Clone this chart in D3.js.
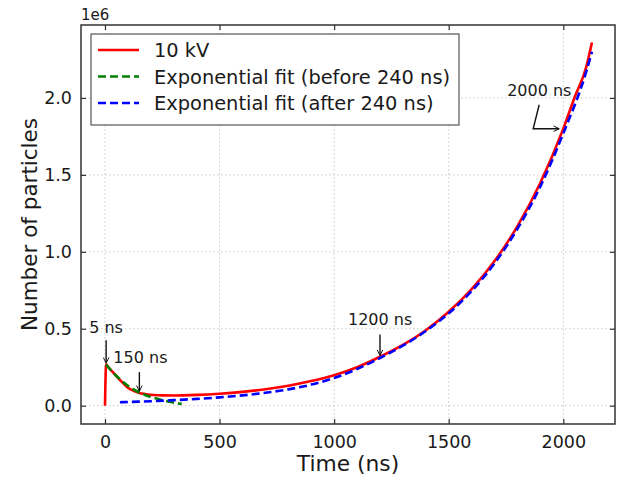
<!DOCTYPE html>
<html>
<head>
<meta charset="utf-8">
<script src="https://cdn.jsdelivr.net/npm/d3@7"></script>
<style>
  body { margin: 0; background: #fff; }
  text { font-family: "DejaVu Sans", sans-serif; fill: #1a1a1a; }
</style>
</head>
<body>
<svg id="chart"></svg>
<script>
// particle count vs time, with two exponential fits

// DATA (values in units of 1e6)
let simTime = [0, 5, 15, 30, 45, 60, 80, 100, 125, 150, 175, 200, 250, 300, 400, 500, 600, 700, 800, 900,
  1000, 1100, 1200, 1300, 1400, 1500, 1600, 1700, 1800, 1900, 2000, 2050, 2100, 2125];
let simCount = [0, 0.268, 0.25, 0.225, 0.2, 0.175, 0.145, 0.117, 0.097, 0.083, 0.076, 0.071, 0.067, 0.066, 0.070, 0.078, 0.090, 0.107, 0.130, 0.160,
  0.198, 0.250, 0.318, 0.395, 0.490, 0.610, 0.757, 0.940, 1.167, 1.449, 1.800, 2.006, 2.200, 2.360];

let fitBeforeTime = [5, 25, 50, 75, 100, 125, 150, 175, 200, 225, 250, 275, 300, 335];
let fitBeforeCount = [0.268, 0.232, 0.193, 0.16, 0.13, 0.106, 0.086, 0.07, 0.057, 0.046, 0.036, 0.028, 0.02, 0.011];

let fitAfterTime = [65, 100, 200, 300, 400, 500, 600, 700, 800, 900, 1000, 1100, 1200, 1300, 1400, 1500,
  1600, 1700, 1800, 1900, 2000, 2100, 2125];
let fitAfterCount = [0.022, 0.024, 0.029, 0.036, 0.044, 0.054, 0.067, 0.084, 0.106, 0.137, 0.180, 0.238, 0.310, 0.390, 0.485, 0.600,
  0.745, 0.925, 1.150, 1.425, 1.770, 2.170, 2.300];

let seriesNames = ["10 kV", "Exponential fit (before 240 ns)", "Exponential fit (after 240 ns)"];

let xTicks = [0, 500, 1000, 1500, 2000];
let yTicks = [0, 0.5, 1.0, 1.5, 2.0];

// annotations: label and the point the arrow points at
let noteLabels = ["5 ns", "150 ns", "1200 ns", "2000 ns"];
let noteTime = [5, 150, 1200, 1982];
let noteCount = [0.27, 0.088, 0.32, 1.80];

// SETUP
let win = {w: 619, h: 477};
let frame = {l: 81, t: 25, r: 615, b: 424};
let colors = ["#ff0000", "#008000", "#0000ff"];

let svg = d3.select("#chart").attr("width", win.w).attr("height", win.h);

let x = d3.scaleLinear().domain([-104.7, 2225.6]).range([frame.l, frame.r]);
let y = d3.scaleLinear().domain([-0.119, 2.474]).range([frame.b, frame.t]);

// grid
svg.append("g").selectAll("line").data(xTicks).enter().append("line")
  .attr("x1", d => x(d)).attr("x2", d => x(d))
  .attr("y1", frame.t).attr("y2", frame.b)
  .attr("stroke", "#c8c8c8").attr("stroke-width", 1).attr("stroke-dasharray", "1.5,2.5");
svg.append("g").selectAll("line").data(yTicks).enter().append("line")
  .attr("y1", d => y(d)).attr("y2", d => y(d))
  .attr("x1", frame.l).attr("x2", frame.r)
  .attr("stroke", "#c8c8c8").attr("stroke-width", 1).attr("stroke-dasharray", "1.5,2.5");

// axes, ticks pointing inward
let tickLen = 5;
let xAxis = svg.append("g").attr("transform", `translate(0,${frame.b})`)
  .call(d3.axisBottom(x).tickValues(xTicks).tickSizeInner(-tickLen).tickSizeOuter(0).tickPadding(12).tickFormat(d3.format("d")));
let xAxisTop = svg.append("g").attr("transform", `translate(0,${frame.t})`)
  .call(d3.axisTop(x).tickValues(xTicks).tickSizeInner(-tickLen).tickSizeOuter(0).tickFormat(""));
let yAxis = svg.append("g").attr("transform", `translate(${frame.l},0)`)
  .call(d3.axisLeft(y).tickValues(yTicks).tickSizeInner(-tickLen).tickSizeOuter(0).tickPadding(9).tickFormat(d3.format(".1f")));
let yAxisRight = svg.append("g").attr("transform", `translate(${frame.r},0)`)
  .call(d3.axisRight(y).tickValues(yTicks).tickSizeInner(-tickLen).tickSizeOuter(0).tickFormat(""));

[xAxis, xAxisTop, yAxis, yAxisRight].forEach(function(a) {
  a.select(".domain").remove();
  a.selectAll(".tick line").attr("stroke", "#333").attr("stroke-width", 1.2);
  a.selectAll(".tick text").attr("font-size", 17.5).attr("fill", "#1a1a1a")
    .attr("font-family", "DejaVu Sans, sans-serif");
});

// frame
svg.append("rect")
  .attr("x", frame.l).attr("y", frame.t)
  .attr("width", frame.r - frame.l).attr("height", frame.b - frame.t)
  .attr("fill", "none").attr("stroke", "#333").attr("stroke-width", 1.5);

// LINES
svg.append("clipPath").attr("id", "plotclip").append("rect")
  .attr("x", frame.l).attr("y", frame.t)
  .attr("width", frame.r - frame.l).attr("height", frame.b - frame.t);

let line = d3.line().x(d => x(d[0])).y(d => y(d[1])).curve(d3.curveMonotoneX);
let plot = svg.append("g").attr("clip-path", "url(#plotclip)");

plot.append("path")
  .datum(d3.zip(simTime, simCount))
  .attr("d", line).attr("fill", "none")
  .attr("stroke", colors[0]).attr("stroke-width", 2.6);

plot.append("path")
  .datum(d3.zip(fitBeforeTime, fitBeforeCount))
  .attr("d", line).attr("fill", "none")
  .attr("stroke", colors[1]).attr("stroke-width", 2.6).attr("stroke-dasharray", "8,4");

plot.append("path")
  .datum(d3.zip(fitAfterTime, fitAfterCount))
  .attr("d", line).attr("fill", "none")
  .attr("stroke", colors[2]).attr("stroke-width", 2.6).attr("stroke-dasharray", "8,4");

// ANNOTATIONS
svg.append("defs").append("marker")
  .attr("id", "arrowhead").attr("viewBox", "0 0 10 10")
  .attr("refX", 9).attr("refY", 5)
  .attr("markerWidth", 7).attr("markerHeight", 7)
  .attr("markerUnits", "userSpaceOnUse")
  .attr("orient", "auto")
  .append("path").attr("d", "M1,1 L9,5 L1,9").attr("fill", "none")
  .attr("stroke", "#111").attr("stroke-width", 1.4);

// text anchor offsets from the target point (px) and arrow tail offsets
let noteTextOff = [[-17, -31], [-26, -29.5], [-32, -31], [-52, -33]];
let noteTailOff = [[0, -24], [0, -20], [0, -22]];

noteLabels.forEach(function(lbl, i) {
  let px = x(noteTime[i]), py = y(noteCount[i]);
  svg.append("text")
    .attr("x", px + noteTextOff[i][0]).attr("y", py + noteTextOff[i][1])
    .attr("font-size", 16).text(lbl);
  if (i < 3) {
    svg.append("line")
      .attr("x1", px + noteTailOff[i][0]).attr("y1", py + noteTailOff[i][1])
      .attr("x2", px).attr("y2", py - 1)
      .attr("stroke", "#111").attr("stroke-width", 1.4)
      .attr("marker-end", "url(#arrowhead)");
  } else {
    // bent arrow for the last one
    svg.append("path")
      .attr("d", `M${px - 20},${py - 24} L${px - 26},${py} L${px},${py}`)
      .attr("fill", "none").attr("stroke", "#111").attr("stroke-width", 1.4)
      .attr("marker-end", "url(#arrowhead)");
  }
});

// LEGEND
let leg = {x: 91, y: 34, w: 368, h: 91, row: 26.5};
svg.append("rect")
  .attr("x", leg.x).attr("y", leg.y).attr("width", leg.w).attr("height", leg.h)
  .attr("fill", "#fff").attr("stroke", "#555").attr("stroke-width", 1.2);

seriesNames.forEach(function(name, i) {
  let ry = leg.y + 16 + i * leg.row;
  svg.append("line")
    .attr("x1", leg.x + 7).attr("x2", leg.x + 48)
    .attr("y1", ry).attr("y2", ry)
    .attr("stroke", colors[i]).attr("stroke-width", 2.6)
    .attr("stroke-dasharray", i == 0 ? null : "8,4");
  svg.append("text")
    .attr("x", leg.x + 63).attr("y", ry + 7)
    .attr("font-size", 19.4).text(name);
});

// TITLES
svg.append("text")
  .attr("x", frame.l).attr("y", 20)
  .attr("font-size", 15).text("1e6");

svg.append("text")
  .attr("x", (frame.l + frame.r) / 2).attr("y", 471)
  .attr("text-anchor", "middle").attr("font-size", 21.8)
  .text("Time (ns)");

svg.append("text")
  .attr("transform", `translate(37,${(frame.t + frame.b) / 2}) rotate(-90)`)
  .attr("text-anchor", "middle").attr("font-size", 21.5)
  .text("Number of particles");
</script>
</body>
</html>
